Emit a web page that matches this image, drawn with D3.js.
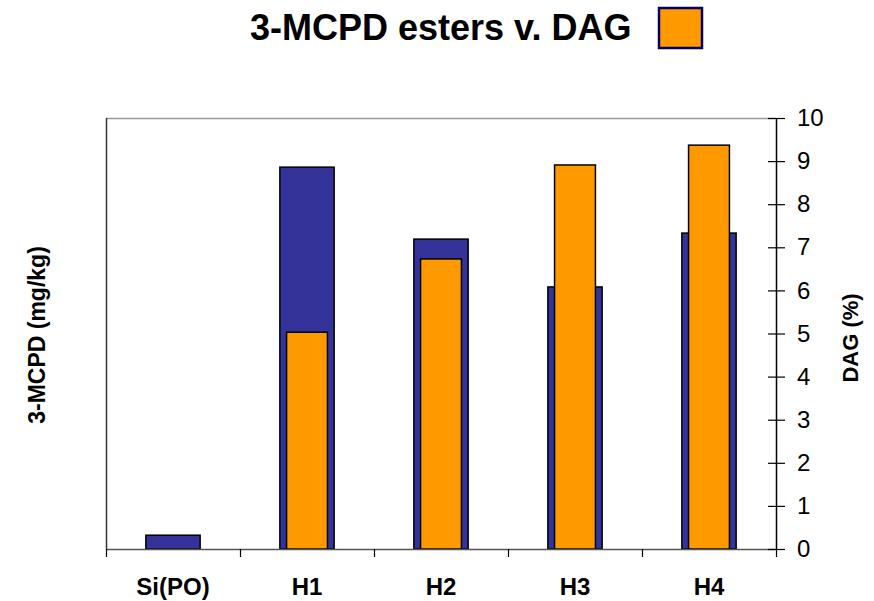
<!DOCTYPE html>
<html>
<head>
<meta charset="utf-8">
<script src="https://cdn.jsdelivr.net/npm/d3@7"></script>
<style>
  html, body { margin: 0; padding: 0; background: #fff; }
  svg { display: block; font-family: "Liberation Sans", Arial, sans-serif; }
</style>
</head>
<body>
<svg id="chart" width="874" height="601"></svg>
<script>
// Samples and measured values
const categories = ["Si(PO)", "H1", "H2", "H3", "H4"];
const mcpdEsters = [0.32, 8.86, 7.19, 6.08, 7.33];   // 3-MCPD (mg/kg)
const dagPercent = [null, 5.03, 6.73, 8.91, 9.37];   // DAG (%)
const dagTicks = [0, 1, 2, 3, 4, 5, 6, 7, 8, 9, 10];

const svg = d3.select("#chart");
const plot = { left: 106, right: 776, top: 118, bottom: 549 };

const x = d3.scaleBand().domain(categories).range([plot.left, plot.right]);
const y = d3.scaleLinear().domain([0, 10]).range([plot.bottom, plot.top]);

const blueW = x.bandwidth() * 0.405;
const orangeW = x.bandwidth() * 0.305;

// Frame: grey top border and left axis line
svg.append("line")
  .attr("x1", plot.left).attr("x2", plot.right)
  .attr("y1", plot.top + 0.5).attr("y2", plot.top + 0.5)
  .attr("stroke", "#999").attr("stroke-width", 1.5);
svg.append("line")
  .attr("x1", plot.left + 0.5).attr("x2", plot.left + 0.5)
  .attr("y1", plot.top).attr("y2", plot.bottom)
  .attr("stroke", "#333").attr("stroke-width", 1.5);

// 3-MCPD ester bars (behind)
svg.append("g").selectAll("rect")
  .data(categories.map((c, i) => ({ c, v: mcpdEsters[i] })))
  .join("rect")
  .attr("x", d => x(d.c) + (x.bandwidth() - blueW) / 2)
  .attr("width", blueW)
  .attr("y", d => y(d.v))
  .attr("height", d => y(0) - y(d.v))
  .attr("fill", "#333399")
  .attr("stroke", "#000")
  .attr("stroke-width", 1.5);

// DAG bars (in front)
svg.append("g").selectAll("rect")
  .data(categories.map((c, i) => ({ c, v: dagPercent[i] })).filter(d => d.v != null))
  .join("rect")
  .attr("x", d => x(d.c) + (x.bandwidth() - orangeW) / 2)
  .attr("width", orangeW)
  .attr("y", d => y(d.v))
  .attr("height", d => y(0) - y(d.v))
  .attr("fill", "#FF9900")
  .attr("stroke", "#000")
  .attr("stroke-width", 1.5);

// Category axis: ticks at band boundaries
const xAxis = svg.append("g");
xAxis.append("line")
  .attr("x1", plot.left).attr("x2", plot.right)
  .attr("y1", plot.bottom + 0.5).attr("y2", plot.bottom + 0.5)
  .attr("stroke", "#555").attr("stroke-width", 1.5);
const bounds = categories.map(c => x(c)).concat([plot.right]);
xAxis.selectAll("line.tick")
  .data(bounds)
  .join("line")
  .attr("class", "tick")
  .attr("x1", d => d + 0.5).attr("x2", d => d + 0.5)
  .attr("y1", plot.bottom).attr("y2", plot.bottom + 8)
  .attr("stroke", "#000").attr("stroke-width", 1.2);
xAxis.selectAll("text")
  .data(categories)
  .join("text")
  .attr("x", d => x(d) + x.bandwidth() / 2)
  .attr("y", 595)
  .attr("text-anchor", "middle")
  .attr("font-size", 24)
  .attr("font-weight", "bold")
  .text(d => d);

// DAG axis on the right
const yAxis = d3.axisRight(y).tickValues(dagTicks).tickSize(0).tickPadding(21).tickFormat(d3.format("d"));
const gy = svg.append("g")
  .attr("transform", `translate(${plot.right},0)`)
  .call(yAxis);
gy.select(".domain").attr("stroke", "#000").attr("stroke-width", 1.5);
gy.selectAll(".tick text").attr("font-size", 24).attr("font-family", "Liberation Sans, Arial, sans-serif").attr("fill", "#000");
gy.selectAll(".tick").append("line")
  .attr("x1", -8).attr("x2", 9)
  .attr("stroke", "#000").attr("stroke-width", 1.2);

// Axis titles
svg.append("text")
  .attr("transform", "translate(45,335) rotate(-90)")
  .attr("text-anchor", "middle")
  .attr("font-size", 23)
  .attr("font-weight", "bold")
  .text("3-MCPD (mg/kg)");
svg.append("text")
  .attr("transform", "translate(858,338) rotate(-90)")
  .attr("text-anchor", "middle")
  .attr("font-size", 22)
  .attr("font-weight", "bold")
  .text("DAG (%)");

// Title with DAG legend swatch
svg.append("text")
  .attr("x", 250).attr("y", 40)
  .attr("font-size", 36)
  .attr("font-weight", "bold")
  .text("3-MCPD esters v. DAG");
svg.append("rect")
  .attr("x", 659).attr("y", 8)
  .attr("width", 43).attr("height", 40)
  .attr("fill", "#FF9900")
  .attr("stroke", "#000066")
  .attr("stroke-width", 2.5);
</script>
</body>
</html>
